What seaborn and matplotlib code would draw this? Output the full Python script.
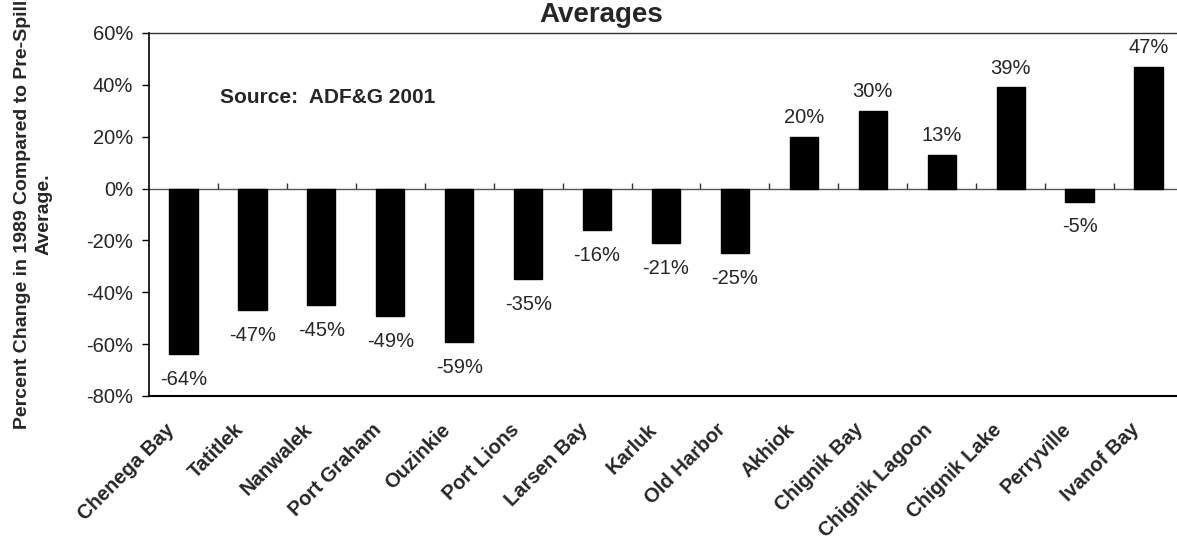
import matplotlib.pyplot as plt;
import matplotlib.ticker as mticker;
import matplotlib.transforms as mtransforms;
import numpy as np;
import seaborn as sns;

sites = [
    'Chenega Bay', 'Tatitlek', 'Nanwalek', 'Port Graham', 'Ouzinkie',
    'Port Lions', 'Larsen Bay', 'Karluk', 'Old Harbor', 'Akhiok',
    'Chignik Bay', 'Chignik Lagoon', 'Chignik Lake', 'Perryville', 'Ivanof Bay',
];
percent_change = [-64, -47, -45, -49, -59, -35, -16, -21, -25, 20, 30, 13, 39, -5, 47];
y_ticks = [-80, -60, -40, -20, 0, 20, 40, 60];

sns.set_style('white');
plt.rcParams['font.family'] = ['Liberation Sans', 'DejaVu Sans'];
plt.rcParams['axes.unicode_minus'] = False;

fig = plt.figure(figsize=(11.77, 5.48), dpi=100);
ax = fig.add_axes([0.1266, 0.2774, 0.8785, 0.6624]);

sns.barplot(
    x=sites,
    y=percent_change,
    color='black',
    saturation=1,
    width=0.41,
    edgecolor='black',
    ax=ax,
);

y_min, y_max = -80, 60;
ax.set_ylim(y_min, y_max);
ax.set_xlim(-0.5, len(sites) - 0.5);
ax.set_yticks(y_ticks);
ax.yaxis.set_major_formatter(mticker.PercentFormatter(decimals=0));

# spines like the Excel plot area (right edge is cut off in the picture)
for side in ['left', 'top', 'bottom']:
    ax.spines[side].set_visible(True);
ax.spines['right'].set_visible(False);
ax.spines['left'].set_color('black');
ax.spines['left'].set_linewidth(1.2);
ax.spines['bottom'].set_color('black');
ax.spines['bottom'].set_linewidth(1.5);
ax.spines['top'].set_color('#333333');
ax.spines['top'].set_linewidth(1.0);

ax.tick_params(axis='y', direction='out', length=5, width=1, pad=6.5, labelsize=14.5, left=True, color='black');
ax.tick_params(axis='x', length=0, pad=22, labelsize=14.5);

trans = mtransforms.ScaledTranslation(-12 / 100, 0, fig.dpi_scale_trans);
for label in ax.get_xticklabels():
    label.set_rotation(45);
    label.set_ha('right');
    label.set_va('center');
    label.set_rotation_mode('anchor');
    label.set_fontweight('bold');
    label.set_transform(label.get_transform() + trans);

# category axis crossing at zero, tick marks between categories
zero_axis = ax.secondary_xaxis((0 - y_min) / (y_max - y_min));
zero_axis.set_alignment('bottom');
zero_axis.set_xticks(np.arange(0.5, len(sites) - 1, 1.0));
zero_axis.tick_params(
    direction='in', length=4.5, width=1, color='#333333',
    bottom=True, top=False, labelbottom=False, labeltop=False,
);
zero_axis.spines['bottom'].set_visible(True);
zero_axis.spines['bottom'].set_color('#555555');
zero_axis.spines['bottom'].set_linewidth(1.0);
for side in ['top', 'left', 'right']:
    zero_axis.spines[side].set_visible(False);

for i, value in enumerate(percent_change):
    offset = 7 if value >= 0 else -11.5;
    ax.annotate(
        f'{value}%',
        xy=(i, value),
        xytext=(0, offset),
        textcoords='offset points',
        ha='center',
        va='bottom' if value >= 0 else 'top',
        fontsize=14.5,
    );

ax.text(0.53, 35, 'Source:  ADF&G 2001', fontsize=15, fontweight='bold', ha='left', va='center');

ax.set_ylabel(
    'Percent Change in 1989 Compared to Pre-Spill\nAverage.',
    fontsize=14,
    fontweight='bold',
    linespacing=1.4,
);
ax.yaxis.set_label_coords(-0.093, 0.5);

fig.text(601 / 1177, 1 - 22 / 548, 'Averages', fontsize=20, fontweight='bold', ha='center', va='baseline');

fig.savefig('out.png', dpi=100);
